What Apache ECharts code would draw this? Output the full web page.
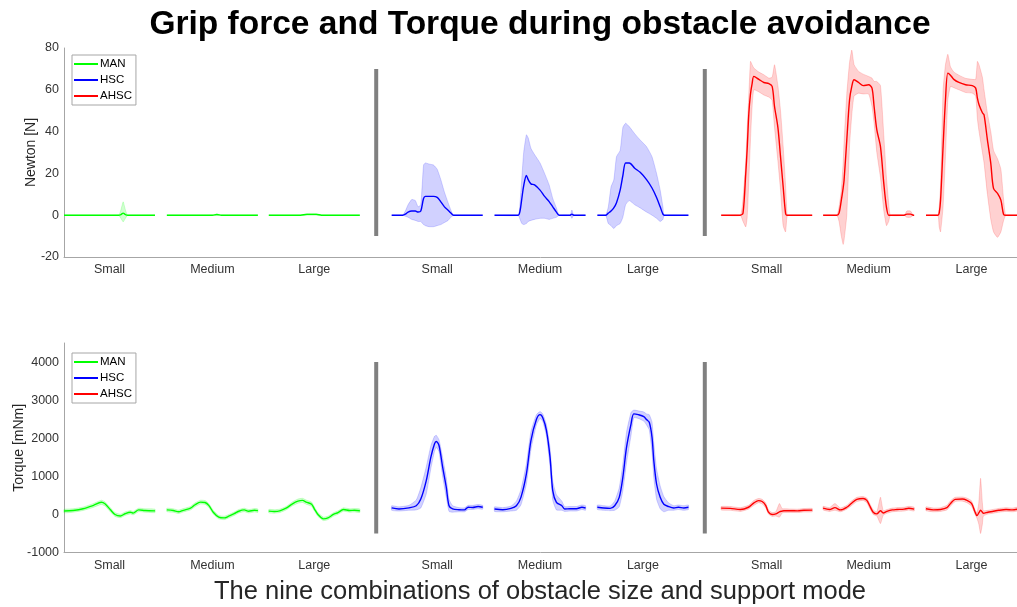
<!DOCTYPE html>
<html>
<head>
<meta charset="utf-8">
<script src="https://cdn.jsdelivr.net/npm/echarts@6/dist/echarts.min.js"></script>
<style>
html,body{margin:0;padding:0;background:#fff;}
#chart{width:1017px;height:607px;}
</style>
</head>
<body>
<div id="chart"></div>
<script>
// ---------------- DATA ----------------
const sizes = ['Small', 'Medium', 'Large'];
const modes = ['MAN', 'HSC', 'AHSC'];
const xTickLabels = ['Small', 'Medium', 'Large', 'Small', 'Medium', 'Large', 'Small', 'Medium', 'Large'];
// start of each of the nine segments on the shared x scale (each segment spans 0..100 % of the task)
const segmentStart = [0, 113, 225, 360, 473, 586, 722, 834, 947];
const separatorX = [343, 704];

// rows: [time %, mean, lower band, upper band]
// ---- Grip force [N] ----
const forceManSmall = [[0,0,0,0],[60,0,0,0],[62.5,0.3,-1.5,2.5],[65,1,-3.2,6.4],[67.5,0.3,-1.5,2.5],[70,0,0,0],[100,0,0,0]];
const forceManMedium = [[0,0,0,0],[50,0,0,0],[55,0.3,-0.2,0.6],[60,0,0,0],[100,0,0,0]];
const forceManLarge = [[0,0,0,0],[35,0,0,0],[42,0.4,0,0.8],[52,0.4,0,0.8],[58,0,0,0],[100,0,0,0]];

const forceHscSmall = [[0,0,0,0],[12,0,0,0],[15,0.5,-0.5,2],[18,1.5,-1,5],[22,2,-2,7.5],[26,2,-2.5,7],[29,1.5,-3,4],[32,2,-3,5],[35,8,-4.5,24],[37,9,-5,25],[41,9,-5.5,24.5],[46,9,-5.5,24],[50,8.5,-5,22],[54,6.4,-4.5,17],[58,4,-3.5,11],[62,2.4,-2.5,6],[65,1.1,-1,2.5],[68,0,0,0],[100,0,0,0]];
const forceHscMedium = [[0,0,0,0],[26,0,0,0],[28,2,-2,6],[30,8,-4,18],[32,14,-4.5,30],[35,19,-4,38.5],[37,17,-3,37],[40,15,-2.5,32],[44,14.5,-2,29],[50,12,-1.5,25],[55,9,-1.5,20],[60,6.5,-2,14.5],[64,4,-1.5,8],[68,1.5,-1,3.5],[71,0,0,0],[83,0,0,0],[85,0.5,-1.5,2.5],[87,0,0,0],[100,0,0,0]];
const forceHscLarge = [[0,0,0,0],[9,0,0,0],[12,1,-4,4],[15,2,-5,13.6],[18,3.5,-6.4,16.8],[21,6,-5,28],[25,12,-4,31],[28,19,-1,42],[31,25,5,44],[35,25,7,42.4],[41,22.5,5,39],[47,20.5,3.5,36],[54,17,1.5,32.8],[60,13,0,28],[65,8.5,-1.5,20],[69,4,-3,12],[72,0.5,-2,4],[73.5,0,0,0],[100,0,0,0]];

const forceAhscSmall = [[0,0,0,0],[21,0,0,0],[24,1,-3,8],[27,20,-5.6,26],[28.6,32,-1,42],[30.4,48.8,16.6,58],[32.2,58,36,73.6],[34,63,52,72],[35.9,66.4,60,70.4],[41.4,65,59,68.5],[46.9,63.5,57.5,67.2],[52.4,63,56.5,65.6],[56,61.6,55,66],[58.6,52,42,72],[62.3,42,26,62],[65.2,28,12,50],[68.1,13.6,-5,33],[70.7,1,-8,15],[72,0,-2,3],[73,0,0,0],[100,0,0,0]];
const forceAhscMedium = [[0,0,0,0],[15,0,0,0],[17.5,1,-3,4],[20,7.2,-10,12],[22,13,-14,25],[23,16.6,-12,35],[26,36,0,58],[29,55,33,73],[31.5,61.6,48,79],[34,64.8,57,72],[39,63.5,58.4,68.8],[44,62,58,67.5],[50,62.4,58,66.4],[53.7,60.8,52,65.6],[56,52,44,64],[59,40.8,30,64],[63,32.8,18,62],[66.7,15,2,38],[69.6,3.7,-5,18],[72,0,-3,6],[74,0,0,0],[89,0,0,0],[92,0.5,-1,2],[96,0.5,-1,2],[99,0,0,0],[100,0,0,0]];
const forceAhscLarge = [[0,0,0,0],[13,0,0,0],[14.5,1,-5.6,4],[16,7,-8,14],[18.8,33,4,60],[21.4,55,28,72],[24,68,55,77],[26.9,67,61.6,71],[30.6,65,61,68.5],[36.2,63.5,60,67],[43.5,62.4,58.7,65.5],[50.9,62,58.4,65],[54.6,60.8,57,65],[56.5,56,46,73.6],[58.3,52.8,40,72],[62,49,30,66],[63.8,48,25,60],[67.5,36,10,48.8],[71.2,24.8,-2,40],[74.2,12.8,-8,31],[78.6,10.4,-10.6,27],[82.3,7.2,-8,22],[85.2,0.5,-2.7,8],[87.8,0,0,0],[100,0,0,0]];

// ---- Torque [mNm] ----
const torqueManSmall = [[0,90,45,135],[10,105,60,150],[21,150,105,195],[32,235,185,285],[41,320,265,375],[45,280,225,335],[51,123,70,175],[56,0,-50,50],[62,-40,-85,5],[67,20,-25,65],[73,60,15,105],[76,35,-10,80],[82,120,75,165],[89,105,60,150],[100,95,50,140]];
const torqueManMedium = [[0,120,75,165],[7,105,60,150],[13,70,25,115],[18,110,65,155],[26,165,120,210],[31,255,205,305],[37,325,275,375],[42,315,265,365],[46,240,190,290],[51,60,10,110],[57,-70,-115,-25],[63,-90,-135,-45],[68,-45,-90,0],[74,20,-25,65],[79,85,40,130],[85,120,75,165],[90,85,40,130],[96,110,65,155],[100,100,55,145]];
const torqueManLarge = [[0,88,43,133],[6,80,35,125],[12,95,50,140],[19,165,120,210],[26,280,230,330],[32,350,295,405],[37,370,315,425],[41,325,270,380],[47,270,215,325],[50,150,95,205],[54,0,-50,50],[60,-115,-160,-70],[65,-90,-135,-45],[71,0,-45,45],[76,50,5,95],[82,130,85,175],[89,105,60,150],[94,110,65,155],[100,100,55,145]];

const torqueHscSmall = [[0,175,110,230],[8,145,90,200],[19,175,110,240],[27,230,120,380],[32,405,170,700],[38,890,540,1250],[43,1500,1200,1800],[47,1850,1650,2050],[49,1915,1760,2080],[52,1810,1650,1960],[56,1240,990,1490],[60,710,450,960],[63,230,80,400],[67,145,60,230],[74,125,70,180],[80,120,70,175],[84,190,130,240],[89,185,130,240],[95,210,150,260],[100,190,140,240]];
const torqueHscMedium = [[0,145,80,200],[9,125,70,180],[18,160,90,220],[24,230,110,350],[29,450,250,650],[35,1065,800,1330],[40,1940,1700,2180],[46,2490,2350,2620],[50,2620,2520,2700],[53,2540,2440,2640],[57,2210,2060,2360],[61,1500,1250,1750],[64,620,370,870],[68,320,120,520],[74,230,110,350],[77,145,80,210],[83,150,90,210],[90,150,90,210],[96,190,130,250],[100,170,110,230]];
const torqueHscLarge = [[0,190,130,250],[7,170,110,230],[14,160,100,220],[19,230,110,350],[24,450,200,700],[28,980,630,1330],[32,1760,1360,2160],[37,2380,2080,2680],[40,2640,2540,2740],[45,2620,2520,2720],[51,2570,2450,2690],[54,2490,2350,2640],[57,2420,2220,2620],[60,2030,1630,2430],[62,1410,960,1860],[65,800,400,1200],[69,450,150,750],[73,270,70,470],[78,210,110,310],[84,170,110,230],[89,190,130,250],[95,170,110,230],[100,190,130,250]];

const torqueAhscSmall = [[0,167,120,210],[10,160,110,210],[21,130,80,180],[30,190,140,240],[36,305,240,370],[41,365,310,420],[45,340,280,400],[49,235,170,300],[52,60,10,120],[56,0,-50,50],[60,15,-40,70],[64,70,-70,290],[67,90,40,150],[69,100,50,150],[76,100,55,145],[84,95,50,140],[91,110,65,155],[100,115,70,160]];
const torqueAhscMedium = [[0,167,120,215],[7,130,80,180],[13,180,110,290],[19,120,70,170],[26,190,140,240],[31,290,230,350],[37,395,340,450],[44,420,370,470],[48,370,310,430],[51,235,170,300],[55,60,0,120],[59,15,-40,70],[63,100,-240,455],[66,40,-20,100],[70,80,30,130],[76,120,70,170],[81,130,80,180],[89,140,90,190],[94,165,115,215],[100,140,90,190]];
const torqueAhscLarge = [[0,150,100,200],[8,120,70,170],[16,130,80,180],[23,180,120,240],[27,290,220,360],[32,395,340,450],[40,405,350,460],[45,370,310,430],[50,290,220,360],[54,60,0,120],[56,-30,-100,40],[58,40,-250,300],[60,110,-500,950],[62,60,-250,300],[63,30,-40,100],[68,60,10,110],[73,80,30,130],[80,110,60,160],[88,130,80,180],[95,120,70,170],[100,140,90,190]];

// ---------------- STRUCTURE ----------------
const panels = [
  [[forceManSmall, forceManMedium, forceManLarge],
   [forceHscSmall, forceHscMedium, forceHscLarge],
   [forceAhscSmall, forceAhscMedium, forceAhscLarge]],
  [[torqueManSmall, torqueManMedium, torqueManLarge],
   [torqueHscSmall, torqueHscMedium, torqueHscLarge],
   [torqueAhscSmall, torqueAhscMedium, torqueAhscLarge]]
];
const lineColors = ['#00ff00', '#0000ff', '#ff0000'];
const bandColors = ['rgba(0,255,0,0.18)', 'rgba(0,0,255,0.18)', 'rgba(255,0,0,0.18)'];
const bandEdges = ['rgba(0,255,0,0.22)', 'rgba(0,0,255,0.2)', 'rgba(255,0,0,0.2)'];
const separatorRange = [[-10, 70], [-500, 4000]];
const xTickValues = segmentStart.map(s => s + 50);

const FONT = '"Liberation Sans", Arial, Helvetica, sans-serif';
const series = [];
panels.forEach((panel, p) => {
  panel.forEach((modeSegs, m) => {
    // band
    series.push({
      type: 'custom', name: modes[m] + ' band', xAxisIndex: p, yAxisIndex: p,
      silent: true, z: 1,
      data: [0, 1, 2].map(s => [segmentStart[m * 3 + s] + 50, 0, s]),
      encode: { x: 0, y: 1 },
      renderItem: function (params, api) {
        const s = api.value(2);
        const rows = modeSegs[s];
        const off = segmentStart[m * 3 + s];
        const up = rows.map(r => api.coord([off + r[0], r[3]]));
        const lo = rows.map(r => api.coord([off + r[0], r[2]])).reverse();
        return {
          type: 'polygon',
          shape: { points: up.concat(lo), smooth: 0.15 },
          style: { fill: bandColors[m], stroke: bandEdges[m], lineWidth: 0.8 }
        };
      }
    });
    // mean line
    const lineData = [];
    modeSegs.forEach((rows, s) => {
      const off = segmentStart[m * 3 + s];
      rows.forEach(r => lineData.push([off + r[0], r[1]]));
      if (s < 2) lineData.push('-');
    });
    series.push({
      type: 'line', name: modes[m], xAxisIndex: p, yAxisIndex: p,
      data: lineData, showSymbol: false, smooth: 0.3, connectNulls: false,
      z: 3, silent: true,
      itemStyle: { color: lineColors[m] },
      lineStyle: { color: lineColors[m], width: 1.4 }
    });
  });
  // separators
  separatorX.forEach(x => {
    series.push({
      type: 'line', xAxisIndex: p, yAxisIndex: p, silent: true, z: 4,
      data: [[x, separatorRange[p][0]], [x, separatorRange[p][1]]],
      showSymbol: false,
      lineStyle: { color: '#808080', width: 4, cap: 'butt' }
    });
  });
});

function xAxis(gi) {
  return {
    type: 'value', gridIndex: gi, min: 0, max: 1047,
    axisLine: { show: true, onZero: false, lineStyle: { color: '#a6a6a6', width: 1 } },
    axisTick: { show: false },
    splitLine: { show: false },
    axisLabel: {
      customValues: xTickValues,
      formatter: v => { const i = xTickValues.indexOf(v); return i >= 0 ? xTickLabels[i] : ''; },
      fontSize: 12.5, color: '#333', fontFamily: FONT, margin: 6
    }
  };
}

const legendBase = {
  orient: 'vertical', left: 72, icon: 'rect', itemWidth: 24, itemHeight: 2,
  itemGap: 4, padding: [3, 4, 3, 2], borderColor: '#a6a6a6', borderWidth: 1,
  backgroundColor: '#fff', selectedMode: false,
  data: modes,
  textStyle: { fontSize: 11.5, color: '#000', fontFamily: FONT, padding: [0, 0, 0, -3] }
};

const option = {
  animation: false,
  backgroundColor: '#fff',
  textStyle: { fontFamily: FONT },
  title: {
    text: 'Grip force and Torque during obstacle avoidance',
    left: 535, top: 3, textAlign: 'center',
    textStyle: { fontSize: 33.5, fontWeight: 'bold', color: '#000', fontFamily: FONT }
  },
  graphic: [{
    type: 'text', x: 540, y: 592,
    style: {
      text: 'The nine combinations of obstacle size and support mode',
      fontSize: 25.5, fill: '#262626', fontFamily: FONT,
      textAlign: 'center', textVerticalAlign: 'middle'
    }
  }],
  legend: [
    Object.assign({}, legendBase, { top: 55 }),
    Object.assign({}, legendBase, { top: 353 })
  ],
  grid: [
    { left: 64, right: 0, top: 48, height: 209, outerBoundsMode: 'none' },
    { left: 64, right: 0, top: 343, height: 209.6, outerBoundsMode: 'none' }
  ],
  xAxis: [xAxis(0), xAxis(1)],
  yAxis: [
    {
      type: 'value', gridIndex: 0, min: -20, max: 80, interval: 20,
      name: 'Newton [N]', nameLocation: 'middle', nameGap: 26, nameMoveOverlap: false,
      nameTextStyle: { fontSize: 14, color: '#262626', fontFamily: FONT },
      axisLine: { show: true, onZero: false, lineStyle: { color: '#a6a6a6' } },
      axisTick: { show: false }, splitLine: { show: false },
      axisLabel: { fontSize: 12.5, color: '#333', margin: 5, fontFamily: FONT, formatter: v => String(v) }
    },
    {
      type: 'value', gridIndex: 1, min: -1000, max: 4500, interval: 1000,
      name: 'Torque [mNm]', nameLocation: 'middle', nameGap: 38, nameMoveOverlap: false,
      nameTextStyle: { fontSize: 14, color: '#262626', fontFamily: FONT },
      axisLine: { show: true, onZero: false, lineStyle: { color: '#a6a6a6' } },
      axisTick: { show: false }, splitLine: { show: false },
      axisLabel: { fontSize: 12.5, color: '#333', margin: 5, fontFamily: FONT, showMaxLabel: false, formatter: v => String(v) }
    }
  ],
  series: series
};

const chart = echarts.init(document.getElementById('chart'), null, { renderer: 'canvas' });
chart.setOption(option);
</script>
</body>
</html>
